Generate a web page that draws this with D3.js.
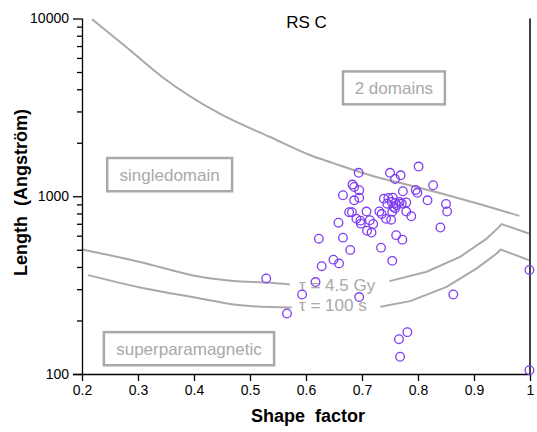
<!DOCTYPE html>
<html>
<head>
<meta charset="utf-8">
<script src="https://cdn.jsdelivr.net/npm/d3@7"></script>
<style>
  html, body { margin: 0; padding: 0; background: #fff; }
  svg { display: block; font-family: "Liberation Sans", Arial, Helvetica, sans-serif; }
</style>
</head>
<body>
<script>
// ---- data ----
const title = "RS C";
const xTicks = [0.2, 0.3, 0.4, 0.5, 0.6, 0.7, 0.8, 0.9, 1];
const yMajorTicks = [100, 1000, 10000];

// sample points: shape factor, length (Angström)
const shape = [0.801,0.694,0.750,0.769,0.759,0.827,0.683,0.686,0.695,0.796,
  0.799,0.773,0.666,0.686,0.695,0.739,0.747,0.755,0.817,0.850,
  0.745,0.753,0.760,0.767,0.771,0.779,0.756,0.762,0.759,0.852,
  0.677,0.682,0.708,0.731,0.735,0.754,0.779,0.788,0.690,0.697,
  0.698,0.714,0.720,0.743,0.752,0.658,0.709,0.717,0.666,0.623,
  0.761,0.772,0.840,0.679,0.734,0.649,0.659,0.628,0.754,0.529,
  0.617,0.593,0.695,0.566,0.863,0.781,0.766,0.768,0.999,0.999];
const length = [1469,1355,1355,1312,1251,1153,1164,1128,1081,1085,
  1046,1067,1013,949,981,968,978,981,949,905,
  908,929,917,929,910,923,871,890,856,821,
  813,813,820,821,794,818,820,772,747,729,
  701,733,698,746,738,710,640,625,585,577,
  604,570,667,499,514,440,419,404,433,345,
  329,280,271,219,280,172,157,125,385,105];

// boundary: single domain / two domains
const sdShape  = [0.218, 0.28, 0.342, 0.446, 0.536, 0.6125, 0.646, 0.732, 0.762, 0.911, 0.981];
const sdLength = [9900, 6870, 4720, 2913, 2154, 1679, 1546, 1268, 1203, 902, 775];

// tau = 4.5 Gy
const gyLeftShape   = [0.2, 0.3036, 0.411, 0.470, 0.536, 0.571];
const gyLeftLength  = [502, 427, 352, 334, 326, 319];
const gyRightShape  = [0.749, 0.8155, 0.875, 0.9227, 0.943, 0.9495, 0.998];
const gyRightLength = [333, 376, 456, 578, 664, 697, 617];

// tau = 100 s
const sLeftShape   = [0.211, 0.3036, 0.411, 0.470, 0.536, 0.5745];
const sLeftLength  = [360, 307, 266, 246, 238, 237];
const sRightShape  = [0.733, 0.786, 0.851, 0.905, 0.9405, 0.9477, 0.998];
const sRightLength = [239, 257, 309, 393, 476, 502, 437];

// region labels (text, box extents in data units)
const boxLabels = ["singledomain", "2 domains", "superparamagnetic"];
const boxX0 = [0.245, 0.666, 0.239];
const boxX1 = [0.468, 0.848, 0.543];
const boxY0 = [1641, 5038, 172];
const boxY1 = [1067, 3288, 112];

const tauLabels = ["\u03c4 = 4.5 Gy", "\u03c4 = 100 s"];
const tauX = [0.5875, 0.5875];
const tauY = [316, 245];

// ---- layout ----
const W = 537, H = 432;
const gray = "#a9a9a9";
const purple = "#7f3cf0";

const svg = d3.select("body").append("svg").attr("width", W).attr("height", H);

const x = d3.scaleLinear().domain([0.2, 1]).range([82, 530]);
const y = d3.scaleLog().domain([100, 10000]).range([374, 18.5]);

// curves
const line = d3.line().x(d => x(d[0])).y(d => y(d[1]));
const smooth = d3.line().x(d => x(d[0])).y(d => y(d[1])).curve(d3.curveMonotoneX);
function pairs(a, b) { return a.map((v, i) => [v, b[i]]); }

const curves = svg.append("g").attr("fill", "none").attr("stroke", gray)
  .attr("stroke-width", 2).attr("stroke-linejoin", "round");
curves.append("path").attr("d", smooth(pairs(sdShape, sdLength)));
curves.append("path").attr("d", smooth(pairs(gyLeftShape, gyLeftLength)));
curves.append("path").attr("d", line(pairs(gyRightShape, gyRightLength)));
curves.append("path").attr("d", smooth(pairs(sLeftShape, sLeftLength)));
curves.append("path").attr("d", line(pairs(sRightShape, sRightLength)));

// region boxes
boxLabels.forEach((t, i) => {
  const g = svg.append("g");
  g.append("rect")
    .attr("x", x(boxX0[i])).attr("y", y(boxY0[i]))
    .attr("width", x(boxX1[i]) - x(boxX0[i]))
    .attr("height", y(boxY1[i]) - y(boxY0[i]))
    .attr("fill", "none").attr("stroke", gray).attr("stroke-width", 2.5);
  g.append("text")
    .attr("x", (x(boxX0[i]) + x(boxX1[i])) / 2)
    .attr("y", (y(boxY0[i]) + y(boxY1[i])) / 2)
    .attr("dy", "0.36em")
    .attr("text-anchor", "middle")
    .attr("font-size", 17).attr("fill", gray).text(t);
});

// tau labels
tauLabels.forEach((t, i) => {
  svg.append("text").attr("x", x(tauX[i])).attr("y", y(tauY[i])).attr("dy", "0.36em")
    .attr("font-size", 17).attr("fill", gray).text(t);
});

// axes
const xAxis = d3.axisBottom(x).tickValues(xTicks).tickSize(7).tickPadding(4)
  .tickFormat(d => d === 1 ? "1" : d3.format(".1f")(d));
const gx = svg.append("g").attr("transform", "translate(0,374)").call(xAxis);
gx.select(".domain").attr("stroke-width", 1.3).attr("d", "M73,0.5H530");
gx.selectAll(".tick line").attr("stroke-width", 1.3);
gx.selectAll(".tick text").attr("font-size", 14).attr("font-family", "Liberation Sans, Arial, sans-serif").attr("fill", "#000");

const minorVals = [];
[100, 1000].forEach(b => { for (let k = 2; k <= 9; k++) minorVals.push(b * k); });
const gyMinor = svg.append("g").attr("transform", "translate(82,0)")
  .call(d3.axisLeft(y).tickValues(minorVals).tickSize(5).tickFormat(""));
gyMinor.select(".domain").remove();
gyMinor.selectAll(".tick line").attr("stroke-width", 1.3);

const gy = svg.append("g").attr("transform", "translate(82,0)")
  .call(d3.axisLeft(y).tickValues(yMajorTicks).tickSize(9).tickPadding(4).tickFormat(d3.format("d")));
gy.select(".domain").attr("stroke-width", 1.3).attr("d", "M0.5,18.5V374");
gy.selectAll(".tick line").attr("stroke-width", 1.3);
gy.selectAll(".tick text").attr("font-size", 14).attr("font-family", "Liberation Sans, Arial, sans-serif").attr("fill", "#000");

// right vertical line at shape factor 1
svg.append("line")
  .attr("x1", x(1)).attr("x2", x(1)).attr("y1", y(10000)).attr("y2", y(100))
  .attr("stroke", "#000").attr("stroke-width", 1.5);

// points
svg.append("g").selectAll("circle").data(shape.map((s, i) => [s, length[i]]))
  .join("circle")
  .attr("cx", d => x(d[0])).attr("cy", d => y(d[1])).attr("r", 4.3)
  .attr("fill", "none").attr("stroke", purple).attr("stroke-width", 1.3);

// title & axis titles
svg.append("text").attr("x", 306.5).attr("y", 28.3).attr("text-anchor", "middle")
  .attr("font-size", 17).attr("fill", "#000").text(title);

svg.append("text").attr("x", 308).attr("y", 422).attr("text-anchor", "middle")
  .attr("font-size", 18).attr("font-weight", "bold").style("white-space", "pre")
  .text("Shape  factor");

svg.append("text").attr("transform", "translate(27,192.5) rotate(-90)")
  .attr("text-anchor", "middle").attr("font-size", 18).attr("font-weight", "bold")
  .style("white-space", "pre").text("Length  (Angstr\u00f6m)");
</script>
</body>
</html>
